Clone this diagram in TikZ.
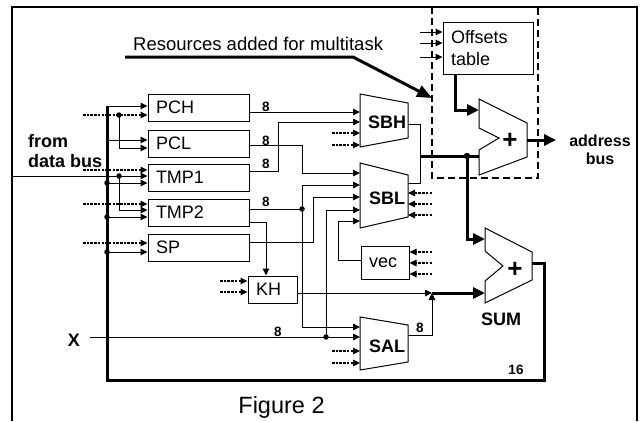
\documentclass[tikz,border=0pt]{standalone}
\usepackage{fontspec}
\setmainfont{Liberation Sans}
\usetikzlibrary{arrows.meta}
\usetikzlibrary{calc}

\begin{document}
\begin{tikzpicture}[x=1pt, y=-1pt,
    reg/.style={draw, line width=1pt, inner xsep=8pt, inner ysep=0pt, minimum height=27pt,
      align=left, text width=#1, font=\fontsize{18}{22}\selectfont},
    reg/.default=85pt,
    muxbox/.style={draw, line width=1pt},
    wire/.style={line width=1pt},
    thickbus/.style={line width=3pt},
    arr/.style={-{Triangle[length=7pt, width=6.5pt]}},
    bigarr/.style={-{Triangle[length=12pt, width=11pt]}},
    dotline/.style={line width=1.3pt, dash pattern=on 2.5pt off 1.2pt},
    junc/.style={circle, fill, inner sep=0pt, minimum size=5.5pt},
    lbl/.style={font=\bfseries\fontsize{13.5}{14}\selectfont, inner sep=0pt},
    bold18/.style={font=\bfseries\fontsize{18}{20}\selectfont, inner sep=0pt},
  ]
  \useasboundingbox (0,0) rectangle (643,421);

  % frame and multitask area
  \draw[line width=1.2pt] (12,421) -- (12,7) -- (637,7) -- (637,421);
  \draw[line width=2pt, dash pattern=on 7pt off 4pt] (432,7) -- (432,178) -- (538,178) -- (538,7);

  % registers
  \node[reg] (PCH) at (198.5,107.5) {PCH};
  \node[reg] (PCL) at (198.5,143.5) {PCL};
  \node[reg] (TMP1) at (198.5,177.5) {TMP1};
  \node[reg] (TMP2) at (198.5,212.5) {TMP2};
  \node[reg] (SP) at (198.5,247.5) {SP};
  \node[reg=33pt] (KH) at (272.5,289.5) {KH};
  \node[reg=32pt, minimum height=33pt] (vec) at (385,262.5) {vec};
  \node[reg=74pt, minimum height=52pt] (ofs) at (488,48) {Offsets\\table};

  % multiplexers
  \draw[muxbox] (360,94) -- (408,103) -- (408,138) -- (360,147) -- cycle;
  \node[bold18] (SBH) at (387,122) {SBH};
  \draw[muxbox] (360,163) -- (408,175) -- (408,217) -- (360,228) -- cycle;
  \node[bold18] (SBL) at (387,198) {SBL};
  \draw[muxbox] (360,317) -- (408,325) -- (408,362) -- (360,370) -- cycle;
  \node[bold18] (SAL) at (387,346) {SAL};

  % adders
  \draw[muxbox] (479,99) -- (527,123) -- (527,157) -- (479,175) -- (479,150) -- (499,138) -- (479,128) -- cycle;
  \node[font=\bfseries\fontsize{26}{26}\selectfont, inner sep=0pt] (plusA) at (510,141) {+};
  \draw[muxbox] (485,228) -- (532,252) -- (532,280) -- (485,303) -- (485,281) -- (503,266) -- (485,251) -- cycle;
  \node[font=\bfseries\fontsize{26}{26}\selectfont, inner sep=0pt] (plusS) at (515,270) {+};
  \node[bold18] (SUM) at (501,319) {SUM};

  % pins
  \foreach \y [count=\i] in {112,122,133,145} \coordinate (sbh\i) at (360,\y);
  \foreach \y [count=\i] in {173,185,197,210,221} \coordinate (sbl\i) at (360,\y);
  \foreach \y [count=\i] in {193,204,215} \coordinate (sblr\i) at (408,\y);
  \foreach \y [count=\i] in {327,337,351,363} \coordinate (sal\i) at (360,\y);
  \coordinate (sbho) at (408,124);
  \coordinate (sblo) at (408,183);
  \coordinate (salo) at (408,335);
  \coordinate (addA) at (479,110);
  \coordinate (addB) at (479,156);
  \coordinate (addO) at (527,140);
  \coordinate (sumA) at (485,239);
  \coordinate (sumB) at (485,293);
  \coordinate (sumO) at (532,263);
  \coordinate (jn) at (432,293);
  \coordinate (bustop) at (107,106);
  \coordinate (xin) at (90,337);

  % labels
  \node[font=\fontsize{18.5}{20}\selectfont, anchor=base west, inner sep=0pt] (res) at (133,50) {Resources added for multitask};
  \node[bold18, align=left, anchor=west] (db) at (28,151) {from\\data bus};
  \node[font=\bfseries\fontsize{16}{18}\selectfont, align=center, inner sep=0pt] (ab) at (600,150) {address\\bus};
  \node[bold18] (X) at (74,340) {X};
  \node[font=\fontsize{23.5}{26}\selectfont, anchor=base, inner sep=0pt] (fig) at (281.5,413) {Figure 2};
  \foreach \y [count=\i] in {106.5,141,163.5,202} \node[lbl] (w\i) at (266,\y) {8};
  \node[lbl] (w5) at (278,332) {8};
  \node[lbl] (w6) at (420,328) {8};
  \node[lbl] (w16) at (516,370) {16};

  % multitask pointer
  \draw[line width=3pt, -{Triangle[length=15pt, width=12pt]}] (125,57) -- (353,57) -- (432,98);

  % register inputs
  \draw[thickbus] (sumO) -| (544,380) -| (bustop);
  \draw[wire, arr] (bustop) -- (PCH.west |- bustop);
  \draw[wire, arr] (107,140) -- (PCL.west |- 0,140);
  \foreach \y/\r in {183/TMP1, 217/TMP2, 252/SP} {
    \node[junc] (b\r) at (107,\y) {};
    \draw[wire, arr] (b\r.center) -- (\r.west |- 0,\y);
  }
  \foreach \y/\r in {115/PCH, 170/TMP1, 204/TMP2, 243/SP}
    \draw[dotline, arr] (83,\y) -- (\r.west |- 0,\y);
  \node[junc] (j1) at (119,115) {};
  \draw[wire, arr] (j1.center) |- (PCL.west |- 0,148);
  \draw[wire, arr] (12,176) -- (TMP1.west |- 0,176);
  \node[junc] (j4) at (119,176) {};
  \draw[wire, arr] (j4.center) |- (TMP2.west |- 0,210);

  % register outputs
  \draw[wire, arr] (PCH.east |- sbh1) -- (sbh1);
  \draw[wire, arr] (TMP1.east |- 0,171) -| (278,122) -- (sbh2);
  \draw[wire, arr] (PCL.east |- 0,145) -| (302,173) -- (sbl1);
  \draw[wire] (TMP2.east |- 0,209) -- (302,209) node[junc] (j2) {};
  \draw[wire, arr] (j2.center) |- (sbl2);
  \draw[wire, arr] (j2.center) |- (sal1);
  \draw[wire, arr] (SP.east |- 0,242) -| (313,197) -- (sbl3);
  \draw[wire] (xin) -- (326,337) node[junc] (jx) {};
  \draw[wire, arr] (jx.center) -- (sal2);
  \draw[wire, arr] (jx.center) |- (sbl4);
  \draw[wire, arr] (vec.west |- 0,260) -| (338,221) -- (sbl5);
  \draw[wire, arr] (TMP2.east |- 0,222) -| (KH.north -| 266,0);

  % control inputs
  \foreach \i in {3,4} \draw[dotline, arr] ($(sbh\i)+(-28,0)$) -- (sbh\i);
  \foreach \i in {3,4} \draw[dotline, arr] ($(sal\i)+(-28,0)$) -- (sal\i);
  \foreach \i in {1,2,3} \draw[dotline, arr] ($(sblr\i)+(24,0)$) -- (sblr\i);
  \foreach \y in {252,263,274} \draw[dotline, arr] (432,\y) -- (vec.east |- 0,\y);
  \foreach \y in {281,292} \draw[dotline, arr] (220,\y) -- (KH.west |- 0,\y);
  \foreach \y in {32,43,57} \draw[wire, arr] (420,\y) -- (ofs.west |- 0,\y);

  % address path
  \draw[wire] (sbho) -- (420,124) -- (420,183) -- (sblo);
  \draw[thickbus] (420,156) -- (addB);
  \node[junc, minimum size=6.5pt] (j3) at (467,156) {};
  \draw[thickbus, bigarr] (j3.center) |- (sumA);
  \draw[thickbus, bigarr] (ofs.south -| 455,0) |- (addA);
  \draw[thickbus, bigarr] (addO) -- ([xshift=-13pt]ab.west |- addO);
  \draw[wire, arr] (KH.east |- jn) -- (jn);
  \draw[wire, arr] (salo) -| (jn);
  \draw[thickbus, bigarr] (jn) -- (sumB);
\end{tikzpicture}
\end{document}
